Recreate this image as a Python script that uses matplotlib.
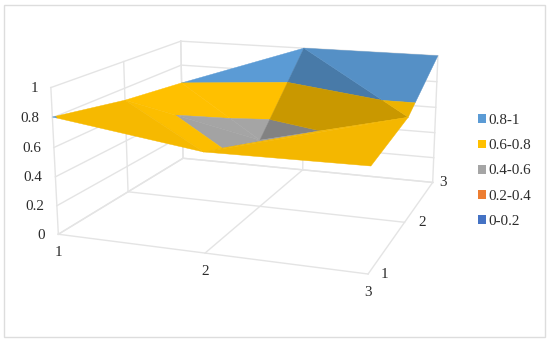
import numpy as np, matplotlib
matplotlib.use('Agg')
import matplotlib.pyplot as plt
from matplotlib.patches import Patch, Rectangle
from matplotlib.colors import to_rgb
from mpl_toolkits.mplot3d import proj3d
from mpl_toolkits.mplot3d.art3d import Poly3DCollection

x_vals = [1, 2, 3]
y_vals = [1, 2, 3]
z_ticks = [0, 0.2, 0.4, 0.6, 0.8, 1]
z_labels = ['0', '0.2', '0.4', '0.6', '0.8', '1']
# heights, rows = y, columns = x
heights = [[0.805, 0.665, 0.675],
           [0.710, 0.495, 0.745],
           [0.650, 1.000, 1.000]]
# values that decide the colour band at each grid point
band_values = [[0.805, 0.645, 0.675],
               [0.665, 0.495, 0.745],
               [0.800, 1.000, 1.000]]
band_labels = ['0.8-1', '0.6-0.8', '0.4-0.6', '0.2-0.4', '0-0.2']
band_edges = [(0.8, 1.01), (0.6, 0.8), (0.4, 0.6), (0.2, 0.4), (0.0, 0.2)]
band_colors = ['#5B9BD5', '#FFC000', '#A5A5A5', '#ED7D31', '#4472C4']

triangles = [((0,0),(1,0),(0,1)), ((1,0),(1,1),(0,1)),
             ((1,0),(2,0),(2,1)), ((1,0),(2,1),(1,1)),
             ((0,1),(1,1),(0,2)), ((1,1),(1,2),(0,2)),
             ((1,1),(2,1),(1,2)), ((2,1),(2,2),(1,2))]
shades = [0.965, 0.99, 0.955, 0.955, 1.0, 1.0, 0.79, 0.93]

W, H = 550, 343
fig = plt.figure(figsize=(W/100, H/100), dpi=100)
ax = fig.add_subplot(projection='3d')
ax.set_xlim(1, 3); ax.set_ylim(1, 3); ax.set_zlim(0, 1)
ax.set_box_aspect((np.exp(0.7546758), np.exp(0.7184745), 1))
ax.view_init(14.23264, -70.10493, 0.05813)
ax.set_proj_type('persp', focal_length=np.exp(-0.7847777))
ax.set_axis_off()
ax.computed_zorder = False
ax.patch.set_alpha(0)

# place the axes so the projected box falls where the reference has it
sc, ox, oy = 2295.3375, 259.8439, 139.4719
ax.set_position([0.25, 0.25, 0.5, 0.5 * W / H])
ax.apply_aspect()
tl = ax.transLimits
a0 = tl.transform((0, 0)); a1 = tl.transform((1, 1))
da = a1 - a0
side = sc / da[0]
left = ox - side * a0[0]
bottom = (H - oy) - side * a0[1]
ax.set_position([left / W, bottom / H, side / W, side / H])
ax.apply_aspect()

grid_c = '#E4E4E4'
def line(xs, ys, zs):
    ax.plot(xs, ys, zs, color=grid_c, lw=1.0, zorder=1, clip_on=False)
for z in z_ticks:
    line([x_vals[0]]*2, [y_vals[0], y_vals[-1]], [z, z])
    line([x_vals[0], x_vals[-1]], [y_vals[-1]]*2, [z, z])
for y in y_vals:
    line([x_vals[0]]*2, [y]*2, [z_ticks[0], z_ticks[-1]])
    line([x_vals[0], x_vals[-1]], [y]*2, [z_ticks[0]]*2)
for x in x_vals:
    line([x, x], [y_vals[-1]]*2, [z_ticks[0], z_ticks[-1]])
    line([x, x], [y_vals[0], y_vals[-1]], [z_ticks[0]]*2)

def clip(poly, lo, hi):
    def cut(pts, level, keep_above):
        out = []
        n = len(pts)
        for i in range(n):
            p, q = pts[i], pts[(i+1) % n]
            pin = (p[3] >= level) if keep_above else (p[3] <= level)
            qin = (q[3] >= level) if keep_above else (q[3] <= level)
            if pin:
                out.append(p)
            if pin != qin:
                t = (level - p[3]) / (q[3] - p[3])
                out.append(p + t * (q - p))
        return out
    pts = cut(list(poly), lo, True)
    if pts:
        pts = cut(pts, hi, False)
    return pts

Zg = np.array(heights); Cg = np.array(band_values)
polys, cols = [], []
for tri, sh in zip(triangles, shades):
    base = [np.array([x_vals[i], y_vals[j], Zg[j, i], Cg[j, i]], float) for i, j in tri]
    for (lo, hi), col in zip(band_edges, band_colors):
        pts = clip(base, lo, hi)
        if len(pts) >= 3:
            polys.append(np.array(pts)[:, :3])
            cols.append(tuple(np.array(to_rgb(col)) * sh))
surf = Poly3DCollection(polys, facecolors=cols, edgecolors=cols, linewidths=0.3, zorder=2, clip_on=False)
surf.set_sort_zpos(0)
ax.add_collection3d(surf)

M = ax.get_proj()
def to_fig(x, y, z):
    u, v, _ = proj3d.proj_transform(x, y, z, M)
    return ax.transData.transform((u, v))
serif = 'Liberation Serif'
fs = 10.9
tc = '#2B2B2B'
def label(s, x, y, z, dx, dy, ha='center'):
    px, py = to_fig(x, y, z)
    fig.text((px + dx) / W, (py - dy) / H, s, ha=ha, va='center', family=serif, fontsize=fs, color=tc)
for z, s in zip(z_ticks, z_labels):
    label(s, x_vals[0], y_vals[0], z, -13, 1, ha='right')
for x in x_vals:
    label(str(x), x, y_vals[0], 0, 0, 18)
for y, dx in zip(y_vals, [16, 18, 10]):
    label(str(y), x_vals[-1], y, 0, dx, 0)

handles = [Patch(facecolor=c, edgecolor='none', label=l) for c, l in zip(band_colors, band_labels)]
fig.legend(handles=handles, loc='center left', bbox_to_anchor=(478 / W, 1 - 171 / H), frameon=False,
           prop={'family': serif, 'size': fs}, labelcolor=tc, handlelength=0.53, handleheight=0.53,
           handletextpad=0.18, labelspacing=0.8, borderpad=0, borderaxespad=0)
fig.add_artist(Rectangle((3.5 / W, 1 - 337 / H), 541.5 / W, 332.5 / H, transform=fig.transFigure,
                         facecolor='none', edgecolor='#DDDDDD', lw=1.0))
fig.savefig('out.png', dpi=100)
